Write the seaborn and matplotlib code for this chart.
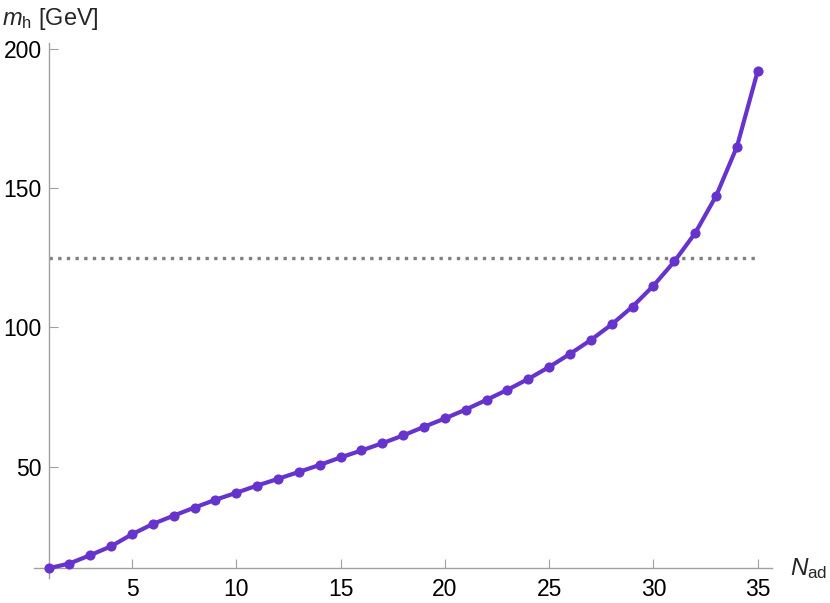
import matplotlib
matplotlib.use("Agg")
import matplotlib.pyplot as plt
from matplotlib.ticker import MultipleLocator
import pandas as pd
import seaborn as sns

# number of additional states and resulting Higgs mass (GeV)
n_ad = list(range(1, 36))
m_h = [13.5, 15.2, 18.2, 21.4, 25.7, 29.4, 32.4, 35.3, 38.1, 40.6,
       43.2, 45.6, 48.1, 50.6, 53.3, 55.8, 58.4, 61.2, 64.3, 67.3,
       70.5, 74.0, 77.6, 81.5, 85.8, 90.5, 95.5, 101.1, 107.5, 115.0,
       123.7, 133.9, 147.2, 164.9, 192.2]
higgs_mass = 125.0

x_ticks = [5, 10, 15, 20, 25, 30, 35]
y_ticks = [50, 100, 150, 200]

if __name__ == "__main__":
    sns.set_theme(style="white")
    plt.rcParams['font.family'] = ['Liberation Sans', 'DejaVu Sans']
    plt.rcParams['mathtext.fontset'] = 'custom'
    plt.rcParams['mathtext.rm'] = 'Liberation Sans'
    plt.rcParams['mathtext.it'] = 'Liberation Sans:italic'

    fig = plt.figure(figsize=(8.3, 6.03), dpi=100)
    ax = fig.add_axes([0.0414, 0.041, 0.8887, 0.887])

    df = pd.DataFrame({"n_ad": n_ad, "m_h": m_h})
    sns.lineplot(data=df, x="n_ad", y="m_h", ax=ax, color="#6633CC",
                 lw=3.0, marker="o", markersize=7.3, markeredgewidth=0,
                 zorder=3)
    ax.hlines(higgs_mass, n_ad[0], n_ad[-1], colors="#808080", lw=2.4,
              linestyles=(0, (1, 1.6)), zorder=2)

    ax.set_xlim(0.32, 35.68)
    ax.set_ylim(9.9, 202)

    for s in ["top", "right"]:
        ax.spines[s].set_visible(False)
    ax.spines["left"].set_position(("data", n_ad[0]))
    ax.spines["bottom"].set_position(("data", m_h[0]))
    for s in ["left", "bottom"]:
        ax.spines[s].set_color("#a0a0a0")
        ax.spines[s].set_linewidth(1.0)

    ax.set_xticks(x_ticks)
    ax.set_yticks(y_ticks)
    ax.xaxis.set_minor_locator(MultipleLocator(1))
    ax.yaxis.set_minor_locator(MultipleLocator(10))
    ax.tick_params(which="both", direction="in", color="#a0a0a0",
                   width=0.8, labelsize=16.5, labelcolor="black")
    ax.tick_params(which="major", length=6.5)
    ax.tick_params(which="minor", length=4)
    ax.tick_params(axis="x", which="major", pad=7, bottom=True)
    ax.tick_params(axis="y", which="major", pad=5, left=True)
    ax.set_xlabel("")
    ax.set_ylabel("")

    fig.text(0.003, 0.968, r"$m_{\mathrm{h}}$ [GeV]", fontsize=17,
             ha="left", va="center")
    ax.text(1.024, m_h[0], r"$N_{\mathrm{ad}}$", fontsize=17.5,
            transform=ax.get_yaxis_transform(), ha="left", va="center")

    fig.savefig("out.png", dpi=100)
